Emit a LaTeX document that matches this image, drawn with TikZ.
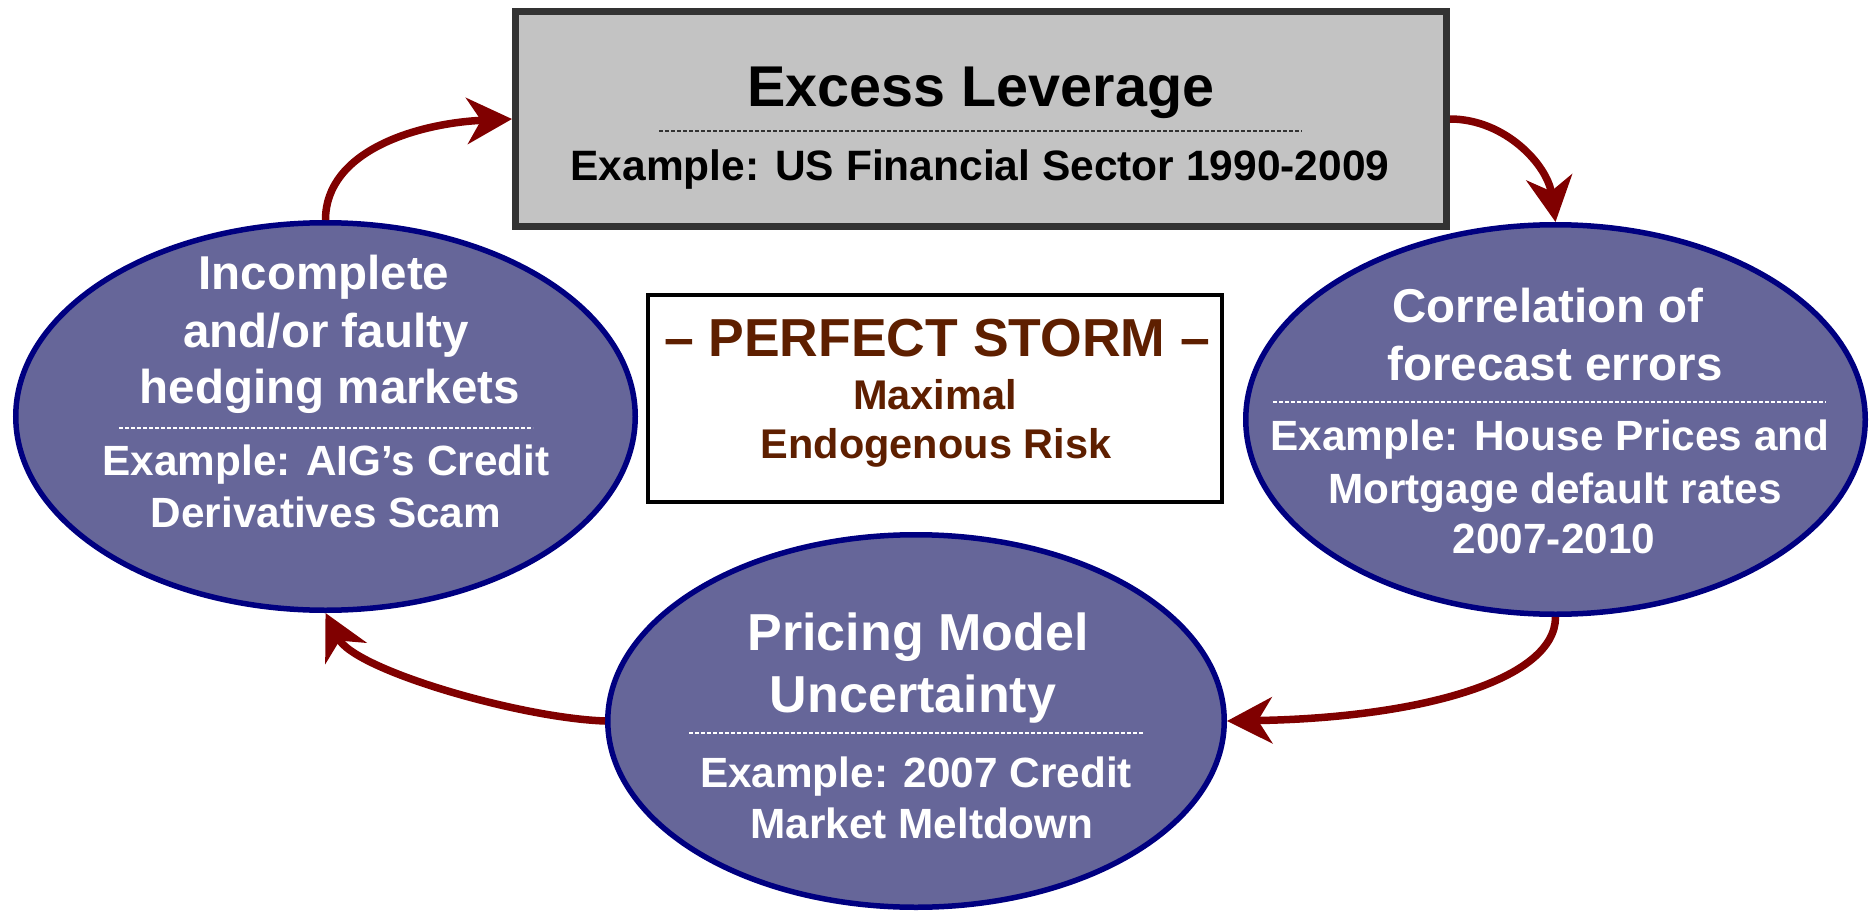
\documentclass[tikz,border=0pt]{standalone}
\usepackage{fontspec}
\setmainfont{Liberation Sans}
\usetikzlibrary{arrows.meta,shapes.geometric}
\definecolor{slate}{HTML}{666699}
\definecolor{navyline}{HTML}{000080}
\definecolor{maroonarrow}{HTML}{800000}
\definecolor{boxgray}{HTML}{C3C3C3}
\definecolor{boxedge}{HTML}{333333}
\definecolor{storm}{HTML}{5E1F00}
\newcommand\fsz[1]{\fontsize{#1}{#1}\selectfont\bfseries}
\begin{document}
\begin{tikzpicture}[x=1pt,y=-1pt,
  cause/.style={ellipse, draw=navyline, fill=slate, line width=5.5pt, inner sep=0pt},
  headline/.style={anchor=base, inner sep=0pt, text=white, font=\fsz{47.5}},
  example/.style={anchor=base, inner sep=0pt, text=white, font=\fsz{42.3}},
  cyclearrow/.style={draw=maroonarrow, line width=7.5pt,
    -{Stealth[length=45pt,width=46pt,inset=14pt]}},
  divider/.style={line width=1.5pt, dash pattern=on 4pt off 2pt}
]
\useasboundingbox (0,0) rectangle (1869,915);

% top box: excess leverage
\node[draw=boxedge, fill=boxgray, line width=7pt, minimum width=931pt,
      minimum height=215pt, inner sep=0pt] (T) at (981,119) {};
\node[anchor=base, inner sep=0pt, font=\fsz{57.5}] (t1) at (981,107) {Excess Leverage};
\draw[divider, draw=boxedge] (659,131) -- (1302,131);
\node[anchor=base, inner sep=0pt, font=\fsz{42.5}] (t2) at (980,180)
  {Example: US Financial Sector 1990-2009};

% centre box: perfect storm
\node[draw=black, fill=white, line width=4pt, minimum width=574pt,
      minimum height=207pt, inner sep=0pt] (S) at (935,398.5) {};
\node[anchor=base, inner sep=0pt, text=storm, font=\fsz{53.5}] (s1) at (937,356)
  {– PERFECT STORM –};
\node[anchor=base, inner sep=0pt, text=storm, font=\fsz{41.5}] (s2) at (935,409) {Maximal};
\node[anchor=base, inner sep=0pt, text=storm, font=\fsz{41.5}] (s3) at (936,458) {Endogenous Risk};

% left ellipse: hedging markets
\node[cause, minimum width=619.5pt, minimum height=387.5pt] (L) at (325.5,416.5) {};
\node[headline] (l1) at (324,289) {Incomplete};
\node[headline] (l2) at (326,347) {and/or faulty};
\node[headline] (l3) at (330,403) {hedging markets};
\draw[divider, draw=white] (119,428) -- (533,428);
\node[example] (l4) at (326,475) {Example: AIG’s Credit};
\node[example] (l5) at (326,527) {Derivatives Scam};

% right ellipse: forecast errors
\node[cause, minimum width=619.5pt, minimum height=389.5pt] (R) at (1555.5,419.5) {};
\node[headline] (r1) at (1548,322) {Correlation of};
\node[headline] (r2) at (1555,380) {forecast errors};
\draw[divider, draw=white] (1273,402) -- (1826,402);
\node[example] (r3) at (1550,450) {Example: House Prices and};
\node[example] (r4) at (1555,503) {Mortgage default rates};
\node[example] (r5) at (1554,553) {2007-2010};

% bottom ellipse: model uncertainty
\node[cause, minimum width=616.5pt, minimum height=372.5pt] (B) at (916,721) {};
\node[headline, font=\fsz{52}] (b1) at (918,650) {Pricing Model};
\node[headline, font=\fsz{52}] (b2) at (913,712) {Uncertainty};
\draw[divider, draw=white] (689,733) -- (1144,733);
\node[example] (b3) at (916,787) {Example: 2007 Credit};
\node[example] (b4) at (922,838) {Market Meltdown};

% feedback loop
\draw[cyclearrow] (L.north) .. controls +(0,-70) and +(-93,4) .. (T.west);
\draw[cyclearrow] (T.east) .. controls +(55,0) and +(-8,-57) .. (R.north);
\draw[cyclearrow] (R.south) .. controls +(0,63) and +(193,-3) .. (B.east);
\draw[cyclearrow] (B.west) .. controls +(-85,-3) and +(29,57) .. (L.south);
\end{tikzpicture}
\end{document}
